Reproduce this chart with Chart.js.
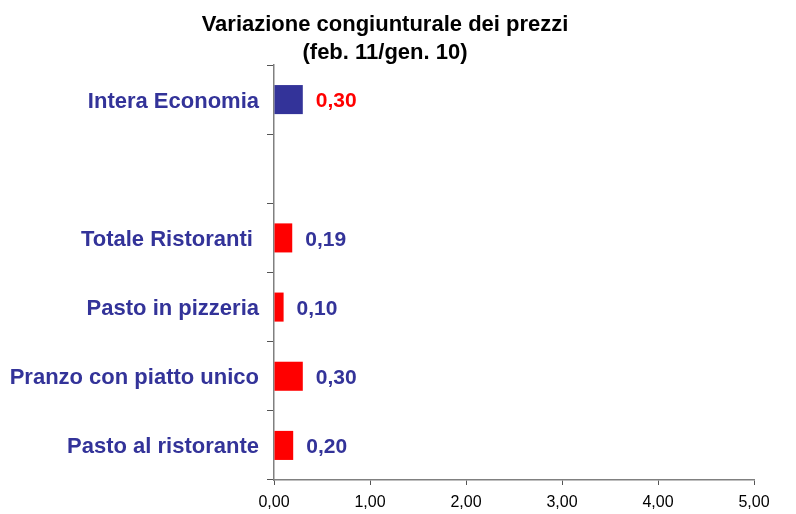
<!DOCTYPE html>
<html>
<head>
<meta charset="utf-8">
<script src="https://cdn.jsdelivr.net/npm/chart.js@4/dist/chart.umd.min.js"></script>
<style>
    body { margin: 0; background: #fff; }
    #wrap { width: 796px; height: 514px; }
</style>
</head>
<body>
<div id="wrap"><canvas id="prezziChart"></canvas></div>
<script>
// Variazione congiunturale dei prezzi (feb. 11/gen. 10)

const categories = ['Intera Economia', '', 'Totale Ristoranti ', 'Pasto in pizzeria', 'Pranzo con piatto unico', 'Pasto al ristorante'];
const values = [0.30, null, 0.19, 0.10, 0.30, 0.20];
const xTicks = [0, 1, 2, 3, 4, 5];
const titleLines = ['Variazione congiunturale dei prezzi', '(feb. 11/gen. 10)'];

const colors = {
    navy: '#333399',
    red: '#FF0000',
    axis: '#808080',
    tick: '#555555',
    text: '#000000'
};

const fontFamily = '"Liberation Sans", Arial, Helvetica, sans-serif';

function fmt(v) {
    return v.toFixed(2).replace('.', ',');
}

// title drawn by hand so it can sit where the original one sits
const titlePlugin = {
    id: 'titleLines',
    afterDraw(chart) {
        const c = chart.ctx;
        c.save();
        c.fillStyle = colors.text;
        c.font = 'bold 22px ' + fontFamily;
        c.textAlign = 'center';
        c.textBaseline = 'middle';
        titleLines.forEach((line, i) => {
            c.fillText(line, 385, 25 + i * 28);
        });
        c.restore();
    }
};

// value labels to the right of each bar
const valueLabels = {
    id: 'valueLabels',
    afterDatasetsDraw(chart) {
        const c = chart.ctx;
        const meta = chart.getDatasetMeta(0);
        c.save();
        c.font = 'bold 21px ' + fontFamily;
        c.textAlign = 'left';
        c.textBaseline = 'middle';
        meta.data.forEach((bar, i) => {
            if (values[i] === null) return;
            c.fillStyle = i === 0 ? colors.red : colors.navy;
            c.fillText(fmt(values[i]), bar.x + 13, bar.y + 2);
        });
        c.restore();
    }
};

new Chart(document.getElementById('prezziChart'), {
    type: 'bar',
    data: {
        labels: categories,
        datasets: [{
            data: values,
            backgroundColor: ctx => ctx.dataIndex === 0 ? colors.navy : colors.red,
            borderWidth: 0,
            barPercentage: 0.42,
            categoryPercentage: 1
        }]
    },
    options: {
        indexAxis: 'y',
        responsive: true,
        maintainAspectRatio: false,
        animation: false,
        layout: {
            padding: { top: 65, right: 42, left: 0, bottom: 0 }
        },
        scales: {
            x: {
                min: 0,
                max: 5,
                afterFit: scale => { scale.height = 34; },
                afterBuildTicks: scale => {
                    scale.ticks = xTicks.map(v => ({ value: v }));
                },
                ticks: {
                    color: colors.text,
                    font: { family: fontFamily, size: 16 },
                    padding: 8,
                    maxRotation: 0,
                    callback: v => fmt(v)
                },
                grid: {
                    drawOnChartArea: false,
                    tickLength: 5,
                    color: colors.tick
                },
                border: { color: colors.axis, width: 1.5 }
            },
            y: {
                afterFit: scale => { scale.width = 274; },
                ticks: {
                    color: colors.navy,
                    font: { family: fontFamily, size: 22, weight: 'bold' },
                    padding: 8,
                    labelOffset: 2
                },
                grid: {
                    drawOnChartArea: false,
                    tickLength: 7,
                    color: colors.tick,
                    offset: true
                },
                border: { color: colors.axis, width: 1.5 }
            }
        },
        plugins: {
            legend: { display: false },
            title: { display: false },
            tooltip: { enabled: false }
        }
    },
    plugins: [titlePlugin, valueLabels]
});
</script>
</body>
</html>
